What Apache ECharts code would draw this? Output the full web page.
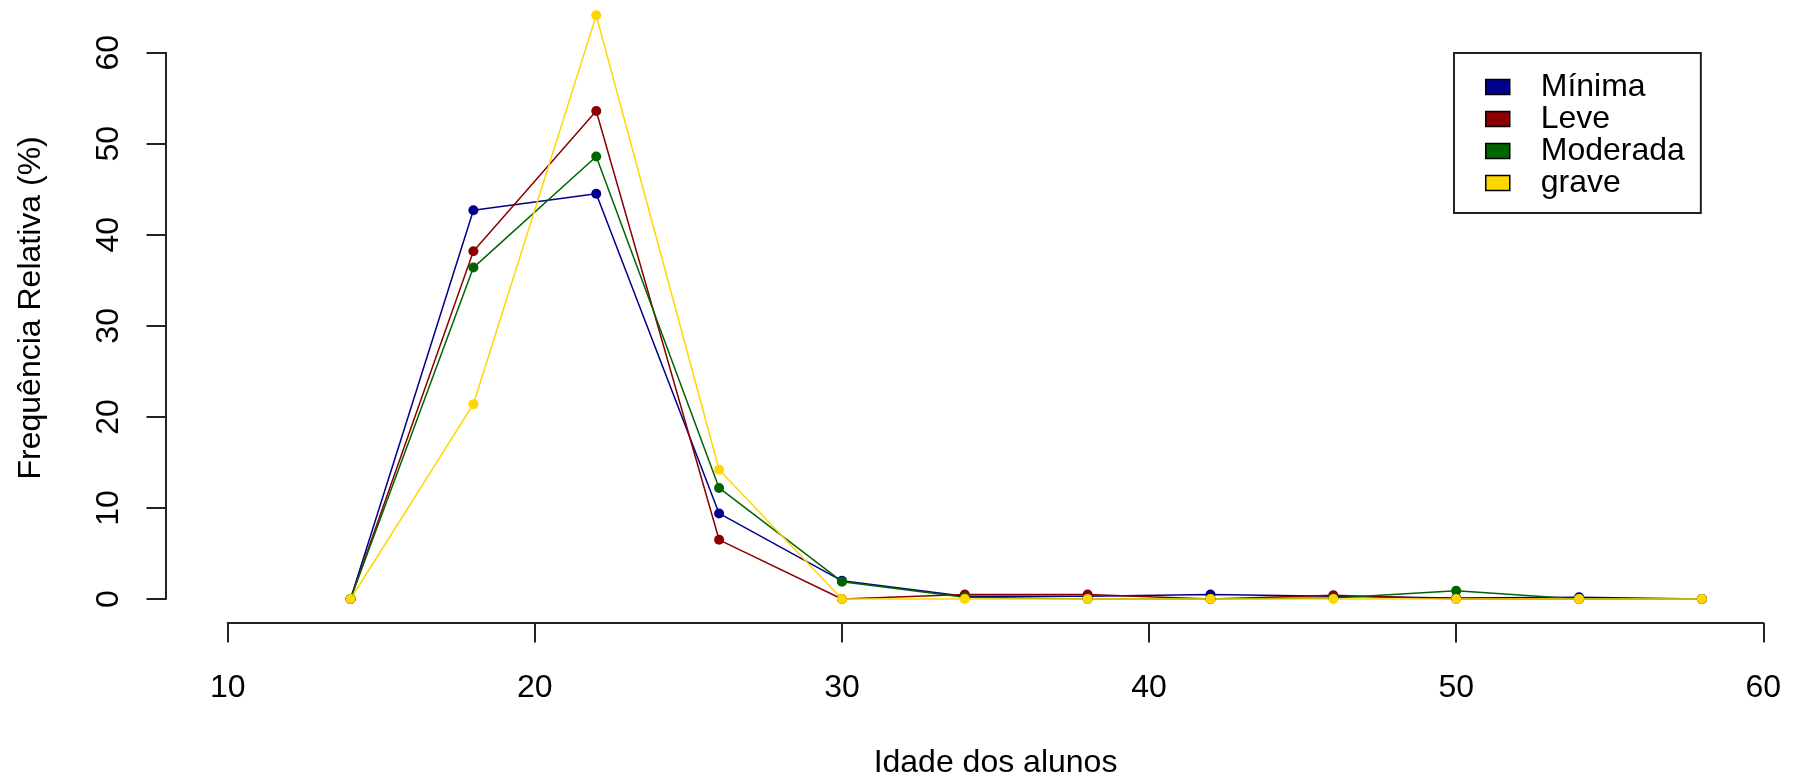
<!DOCTYPE html>
<html><head><meta charset="utf-8">
<script src="https://cdn.jsdelivr.net/npm/echarts@6/dist/echarts.min.js"></script>
<style>html,body{margin:0;padding:0;background:#fff}#c{width:1793px;height:779px}</style>
</head><body><div id="c"></div>
<script>
// Class midpoints (idade dos alunos)
const ages = [14, 18, 22, 26, 30, 34, 38, 42, 46, 50, 54, 58];
const seriesNames = ['Mínima', 'Leve', 'Moderada', 'grave'];
// Frequência relativa (%) for each class
const minima   = [0, 42.7, 44.5,  9.4, 2.0, 0.3, 0.3, 0.5, 0.3, 0.1, 0.2, 0];
const leve     = [0, 38.2, 53.6,  6.5, 0,   0.5, 0.5, 0,   0.4, 0,   0,   0];
const moderada = [0, 36.4, 48.6, 12.2, 1.9, 0.2, 0,   0,   0.1, 0.9, 0,   0];
const grave    = [0, 21.4, 64.1, 14.2, 0,   0,   0,   0,   0,   0,   0,   0];
const colors = ['#00008B', '#8B0000', '#006400', '#FFD700'];
const allValues = [minima, leve, moderada, grave];

const FONT = '"Liberation Sans", Arial, sans-serif';
const axisColor = '#222';

const chart = echarts.init(document.getElementById('c'), null, {renderer: 'canvas'});
chart.setOption({
  animation: false,
  backgroundColor: '#fff',
  textStyle: {fontFamily: FONT, color: '#000'},
  grid: {left: 227.7, right: 29.7, top: 52.7, bottom: 180, containLabel: false, outerBoundsMode: 'none'},
  xAxis: {
    type: 'value', min: 10, max: 60, interval: 10,
    offset: 24,
    axisLine: {show: true, onZero: false, lineStyle: {color: axisColor, width: 2}},
    axisTick: {show: true, length: 19.5, lineStyle: {color: axisColor, width: 2}},
    axisLabel: {fontSize: 32, fontFamily: FONT, color: '#000', margin: 49.5},
    splitLine: {show: false},
    name: 'Idade dos alunos', nameLocation: 'middle', nameGap: 124.5,
    nameTextStyle: {fontSize: 32, fontFamily: FONT, color: '#000'}
  },
  yAxis: {
    type: 'value', min: 0, max: 60, interval: 10,
    offset: 61.7,
    axisLine: {show: true, onZero: false, lineStyle: {color: axisColor, width: 2}},
    axisTick: {show: true, length: 19.5, lineStyle: {color: axisColor, width: 2}},
    axisLabel: {fontSize: 32, fontFamily: FONT, color: '#000', rotate: 90, margin: 41},
    splitLine: {show: false},
    name: 'Frequência Relativa (%)', nameLocation: 'middle', nameRotate: 90, nameGap: 119,
    nameTextStyle: {fontSize: 32, fontFamily: FONT, color: '#000', padding: [0, 0, 0, 36]}
  },
  legend: {
    orient: 'vertical', left: 1454, top: 53,
    borderColor: axisColor, borderWidth: 2,
    padding: [18, 16, 14, 31],
    itemWidth: 24, itemHeight: 15, itemGap: 0,
    textStyle: {fontSize: 32, fontFamily: FONT, color: '#000', lineHeight: 32, padding: [0, 0, 0, 26]},
    data: seriesNames.map(n => ({name: n, icon: 'rect', itemStyle: {borderColor: '#000', borderWidth: 1.5}}))
  },
  series: seriesNames.map((n, i) => ({
    name: n, type: 'line',
    data: ages.map((a, j) => [a, allValues[i][j]]),
    symbol: 'circle', symbolSize: 10, showSymbol: true,
    clip: false,
    color: colors[i],
    lineStyle: {color: colors[i], width: 1.5},
    itemStyle: {color: colors[i]},
    emphasis: {disabled: true}
  }))
});
</script></body></html>
